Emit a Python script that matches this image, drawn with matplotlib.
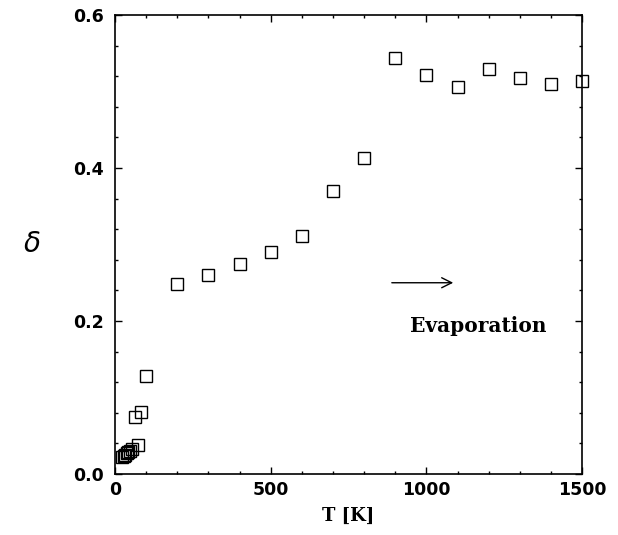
import matplotlib
matplotlib.use("Agg")
import matplotlib.pyplot as plt
from matplotlib.ticker import MultipleLocator

# temperature [K] and delta
T = [22, 28, 33, 38, 43, 48, 55, 64, 74, 84, 100,
     200, 300, 400, 500, 600, 700, 800,
     900, 1000, 1100, 1200, 1300, 1400, 1500]
delta = [0.022, 0.024, 0.025, 0.027, 0.029, 0.030, 0.033, 0.075, 0.038, 0.081, 0.128,
         0.248, 0.260, 0.275, 0.290, 0.311, 0.370, 0.413,
         0.544, 0.522, 0.506, 0.529, 0.518, 0.510, 0.514]

xticks = [0, 500, 1000, 1500]
yticks = [0.0, 0.2, 0.4, 0.6]


def main():
	fig = plt.figure(figsize=(6.18, 5.35), dpi=100)
	ax = fig.add_axes([0.186, 0.114, 0.756, 0.858])

	ax.plot(T, delta, linestyle='none', marker='s', markersize=8,
			markerfacecolor='none', markeredgecolor='black', markeredgewidth=1.0,
			clip_on=False)

	ax.set_xlim(0, 1500)
	ax.set_ylim(0, 0.6)
	ax.set_xticks(xticks)
	ax.set_yticks(yticks)
	ax.set_xticklabels([str(x) for x in xticks])
	ax.set_yticklabels(["%.1f" % y for y in yticks])
	ax.xaxis.set_minor_locator(MultipleLocator(100))
	ax.yaxis.set_minor_locator(MultipleLocator(0.04))
	ax.tick_params(which='both', direction='in', top=True, right=True, width=1)
	ax.tick_params(which='major', length=5, labelsize=12.5)
	ax.tick_params(axis='x', which='major', pad=5)
	ax.tick_params(axis='y', which='major', pad=8)
	ax.tick_params(which='minor', length=2.5)
	for lab in ax.get_xticklabels() + ax.get_yticklabels():
		lab.set_fontweight('bold')
	for sp in ax.spines.values():
		sp.set_linewidth(1.2)

	ax.set_xlabel("T [K]", family='DejaVu Serif', fontweight='bold', fontsize=13, labelpad=6)
	ax.set_ylabel(r"$\delta$", fontsize=20, rotation=0, labelpad=30, va='center')

	ax.annotate("", xy=(1095, 0.25), xytext=(880, 0.25),
				arrowprops=dict(arrowstyle='->', color='black', lw=1, mutation_scale=18))
	ax.text(1165, 0.193, "Evaporation", family='DejaVu Serif', fontweight='bold',
			fontsize=14.5, ha='center', va='center')

	fig.savefig("out.png", dpi=100)


if __name__ == "__main__":
	main()
